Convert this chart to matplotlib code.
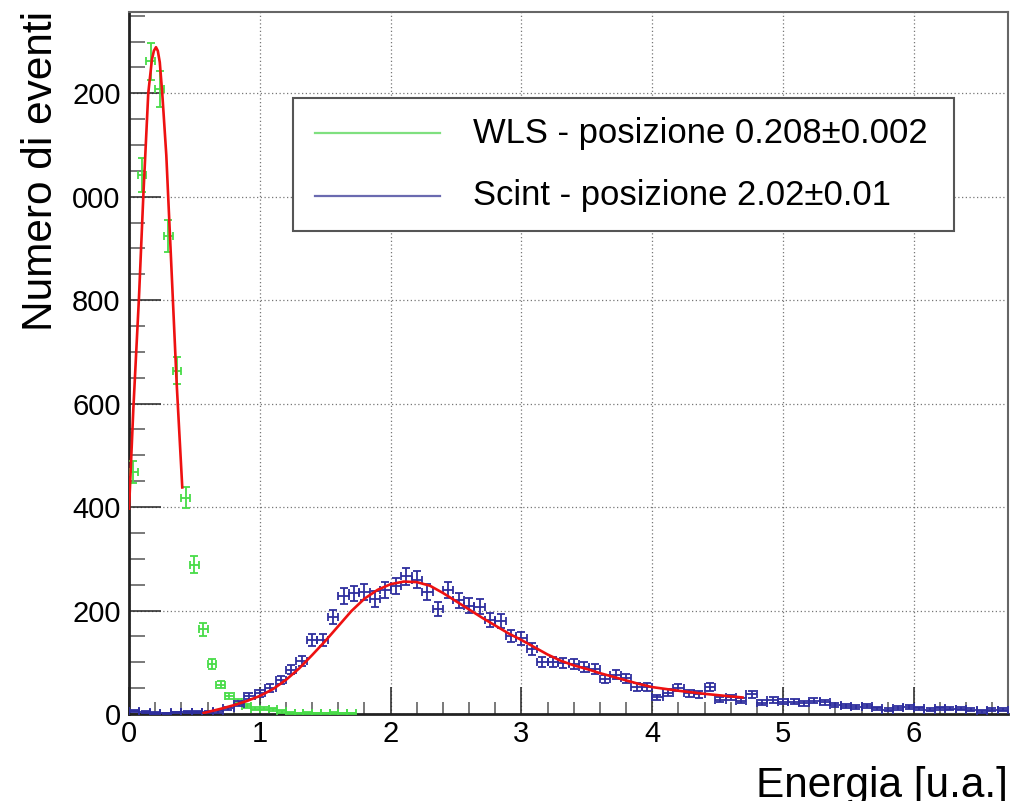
import numpy as np
import matplotlib
matplotlib.use("Agg")
import matplotlib.pyplot as plt
from matplotlib.lines import Line2D
from matplotlib.patches import Rectangle
from matplotlib.ticker import MultipleLocator

plt.rcParams['font.family'] = ['Liberation Sans', 'DejaVu Sans']

# --- WLS histogram (bin width 1/15) ---
wls_width = 1.0 / 15
wls_counts = [468, 1042, 1262, 1208, 924, 664, 418, 289, 164, 97, 57, 35, 24,
              15, 10, 10, 9, 5, 2, 1, 2, 1, 1, 2, 1, 1]

# --- Scint histogram (bin width 0.08) ---
sc_width = 0.08
sc_counts = [6, 4, 2, 1, 3, 4, 4, 4, 5, 11, 20, 34, 40, 50, 66, 86, 102, 143,
             143, 187, 228, 233, 236, 222, 239, 248, 266, 260, 236, 203, 240,
             220, 209, 207, 182, 179, 151, 146, 126, 100, 100, 99, 97, 91, 87,
             68, 76, 69, 52, 52, 32, 41, 51, 40, 38, 52, 28, 32, 26, 38, 22,
             27, 24, 24, 21, 26, 23, 17, 16, 13, 16, 11, 8, 12, 13, 11, 8, 11,
             10, 10, 8, 5, 8, 8]

# --- fit curves ---
wls_fit_x = [0.0, 0.033, 0.076, 0.109, 0.147, 0.175, 0.19, 0.206, 0.22, 0.235,
             0.254, 0.285, 0.33, 0.364, 0.407]
wls_fit_y = [397, 590, 805, 1000, 1200, 1265, 1282, 1289, 1282, 1260,
             1200, 1080, 830, 640, 438]

sc_fit_x = [0.57, 0.7, 0.8, 0.9, 1.0, 1.1, 1.2, 1.3, 1.4, 1.5, 1.6, 1.7, 1.8,
            1.9, 2.0, 2.1, 2.2, 2.3, 2.4, 2.5, 2.6, 2.7, 2.8, 2.9, 3.0, 3.1,
            3.2, 3.3, 3.4, 3.5, 3.6, 3.7, 3.8, 3.9, 4.0, 4.2, 4.4, 4.6, 4.69]
sc_fit_y = [2, 10, 17, 25, 35, 48, 66, 88, 114, 141, 170, 199, 223,
            240, 251, 256, 255, 248, 234, 218, 202, 186, 171, 156, 143, 129,
            115, 103, 94, 87, 79, 72, 65, 58, 52, 45, 39, 34, 32]

legend_labels = ["WLS - posizione 0.208\u00b10.002", "Scint - posizione 2.02\u00b10.01"]
y_ticks = [0, 200, 400, 600, 800, 1000, 1200]
y_tick_labels = ["0", "200", "400", "600", "800", "000", "200"]

green = '#48dc48'
blue = '#2e2e9e'
red = '#ee1111'

fig = plt.figure(figsize=(10.12, 8.01), dpi=100)
ax = fig.add_axes([0.1275, 0.1086, 0.8686, 0.8764])

# histograms as points with error bars
wls_x = (np.arange(len(wls_counts)) + 0.5) * wls_width
wls_y = np.array(wls_counts, dtype=float)
ax.errorbar(wls_x, wls_y, xerr=wls_width / 2, yerr=np.sqrt(wls_y), fmt='none',
            ecolor=green, elinewidth=1.3, capsize=3.0, capthick=1.3, zorder=3)

sc_x = (np.arange(len(sc_counts)) + 0.5) * sc_width
sc_y = np.array(sc_counts, dtype=float)
ax.errorbar(sc_x, sc_y, xerr=sc_width / 2, yerr=np.sqrt(sc_y), fmt='none',
            ecolor=blue, elinewidth=1.3, capsize=3.0, capthick=1.3, zorder=4)

# fits
ax.plot(wls_fit_x, wls_fit_y, color=red, lw=1.9, zorder=5)
ax.plot(sc_fit_x, sc_fit_y, color=red, lw=1.9, zorder=5)

ax.set_xlim(0, 6.72)
ax.set_ylim(0, 1357)

ax.xaxis.set_major_locator(MultipleLocator(1))
ax.xaxis.set_minor_locator(MultipleLocator(0.2))
ax.set_yticks(y_ticks)
ax.set_yticklabels(y_tick_labels)
ax.yaxis.set_minor_locator(MultipleLocator(50))

ax.tick_params(axis='both', which='both', direction='in', top=False, right=False,
               labelsize=21, colors='#222222', width=1.1)
ax.tick_params(axis='y', which='major', length=23, pad=6)
ax.tick_params(axis='y', which='minor', length=11.5, color='#555555')
ax.tick_params(axis='x', which='major', length=19.5, pad=4.5)
ax.tick_params(axis='x', which='minor', length=8.6, color='#555555')
for lab in ax.get_xticklabels() + ax.get_yticklabels():
    lab.set_color('black')

ax.grid(True, which='major', color='#777777', linestyle=(0, (1, 2)), linewidth=0.9)
ax.set_axisbelow(True)

for side in ['left', 'bottom']:
    ax.spines[side].set_color('#222222')
    ax.spines[side].set_linewidth(2)
for side in ['top', 'right']:
    ax.spines[side].set_color('#666666')
    ax.spines[side].set_linewidth(1.5)

# axis titles, ROOT style (aligned to the end of the axis)
fig.text(41 / 1012, 1 - 11 / 801, "Numero di eventi", rotation=90,
         ha='center', va='top', fontsize=30.5)
fig.text(1008 / 1012, 4 / 801, "Energia [u.a.]", ha='right', va='baseline',
         fontsize=30.5)

# legend box
lx0, lx1 = 293 / 1012, 954 / 1012
ly0, ly1 = 1 - 231 / 801, 1 - 98 / 801
fig.patches.append(Rectangle((lx0, ly0), lx1 - lx0, ly1 - ly0,
                             transform=fig.transFigure, facecolor='white',
                             edgecolor='#555555', linewidth=1.5, zorder=10))
for label, col, yy in [(legend_labels[0], '#7fe07f', 1 - 133 / 801),
                       (legend_labels[1], '#6a6ab0', 1 - 196 / 801)]:
    fig.lines.append(Line2D([315 / 1012, 440 / 1012], [yy, yy],
                            transform=fig.transFigure, color=col, lw=1.6,
                            zorder=11))
    fig.text(473 / 1012, yy, label, ha='left', va='center', fontsize=24.9,
             zorder=11)

fig.savefig("out.png", dpi=100)
